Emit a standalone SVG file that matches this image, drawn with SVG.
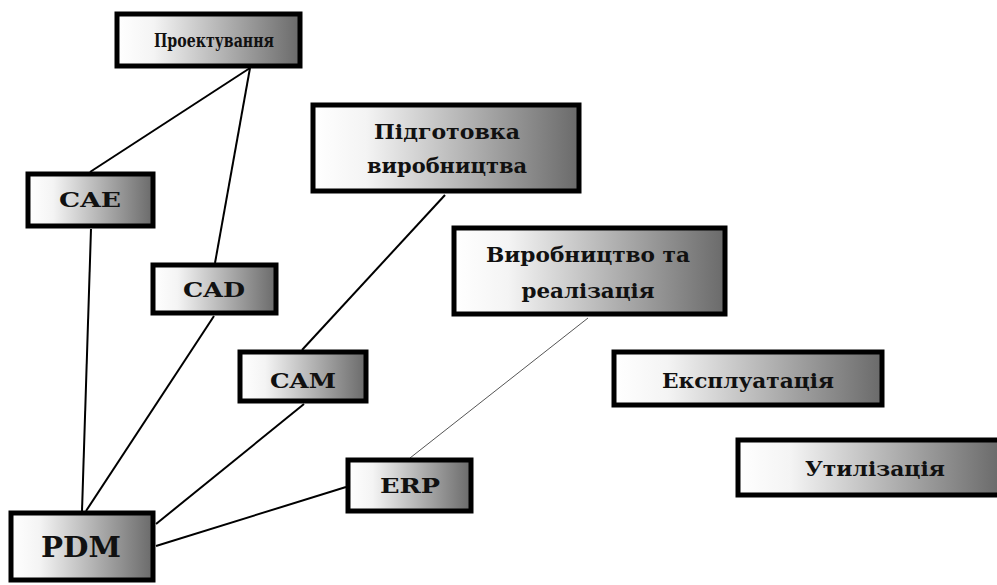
<svg xmlns="http://www.w3.org/2000/svg" width="997" height="585" viewBox="0 0 997 585">
<defs>
<linearGradient id="g" x1="0" y1="0" x2="1" y2="0">
<stop offset="0" stop-color="#ffffff"/>
<stop offset="0.2" stop-color="#f4f4f4"/>
<stop offset="1" stop-color="#6a6a6a"/>
</linearGradient>
</defs>
<style>
.box{fill:url(#g);stroke:#000;stroke-width:5}
.t{font-family:"DejaVu Serif","Liberation Serif",serif;font-weight:bold;fill:#111;text-anchor:middle}
.ln{stroke:#000;stroke-width:2;fill:none}
.thin{stroke:#555;stroke-width:1;fill:none}
</style>
<rect width="997" height="585" fill="#fff"/>
<g id="connectors">
<line class="ln" x1="250" y1="68" x2="90" y2="172"/>
<line class="ln" x1="250" y1="68" x2="215" y2="263"/>
<line class="ln" x1="91" y1="229" x2="82" y2="511"/>
<line class="ln" x1="214" y1="316" x2="86" y2="511"/>
<line class="ln" x1="445" y1="195" x2="302" y2="350"/>
<line class="ln" x1="304" y1="404" x2="156" y2="524"/>
<line class="ln" x1="346" y1="487" x2="156" y2="546"/>
<line class="thin" x1="588" y1="318" x2="410" y2="458"/>
</g>
<g id="proektuvannya">
<rect class="box" x="117" y="14" width="183" height="52"/>
<text class="t" x="214" y="47" font-size="18" textLength="120" lengthAdjust="spacingAndGlyphs">Проектування</text>
</g>
<g id="pidgotovka">
<rect class="box" x="313" y="105" width="266" height="86"/>
<text class="t" x="447" y="139" font-size="21" textLength="146" lengthAdjust="spacingAndGlyphs">Підготовка</text>
<text class="t" x="447" y="173" font-size="21" textLength="160" lengthAdjust="spacingAndGlyphs">виробництва</text>
</g>
<g id="vyrobnytstvo">
<rect class="box" x="454" y="228" width="271" height="86"/>
<text class="t" x="588" y="262" font-size="21" textLength="204" lengthAdjust="spacingAndGlyphs">Виробництво та</text>
<text class="t" x="588" y="298" font-size="21" textLength="133" lengthAdjust="spacingAndGlyphs">реалізація</text>
</g>
<g id="cae">
<rect class="box" x="28" y="174" width="125" height="52"/>
<text class="t" x="90" y="207" font-size="21" textLength="62" lengthAdjust="spacingAndGlyphs">CAE</text>
</g>
<g id="cad">
<rect class="box" x="153" y="265" width="123" height="48"/>
<text class="t" x="214" y="297" font-size="21" textLength="62" lengthAdjust="spacingAndGlyphs">CAD</text>
</g>
<g id="cam">
<rect class="box" x="240" y="352" width="126" height="49"/>
<text class="t" x="303" y="388" font-size="21" textLength="66" lengthAdjust="spacingAndGlyphs">CAM</text>
</g>
<g id="erp">
<rect class="box" x="348" y="460" width="123" height="51"/>
<text class="t" x="410" y="493" font-size="21" textLength="60" lengthAdjust="spacingAndGlyphs">ERP</text>
</g>
<g id="pdm">
<rect class="box" x="11" y="513" width="142" height="67"/>
<text class="t" x="81" y="557" font-size="27" textLength="80" lengthAdjust="spacingAndGlyphs">PDM</text>
</g>
<g id="ekspluatatsiya">
<rect class="box" x="614" y="352" width="268" height="53"/>
<text class="t" x="748" y="388" font-size="21" textLength="172" lengthAdjust="spacingAndGlyphs">Експлуатація</text>
</g>
<g id="utylizatsiya">
<rect class="box" x="738" y="440" width="262" height="55"/>
<text class="t" x="875" y="476" font-size="21" textLength="140" lengthAdjust="spacingAndGlyphs">Утилізація</text>
</g>
</svg>
